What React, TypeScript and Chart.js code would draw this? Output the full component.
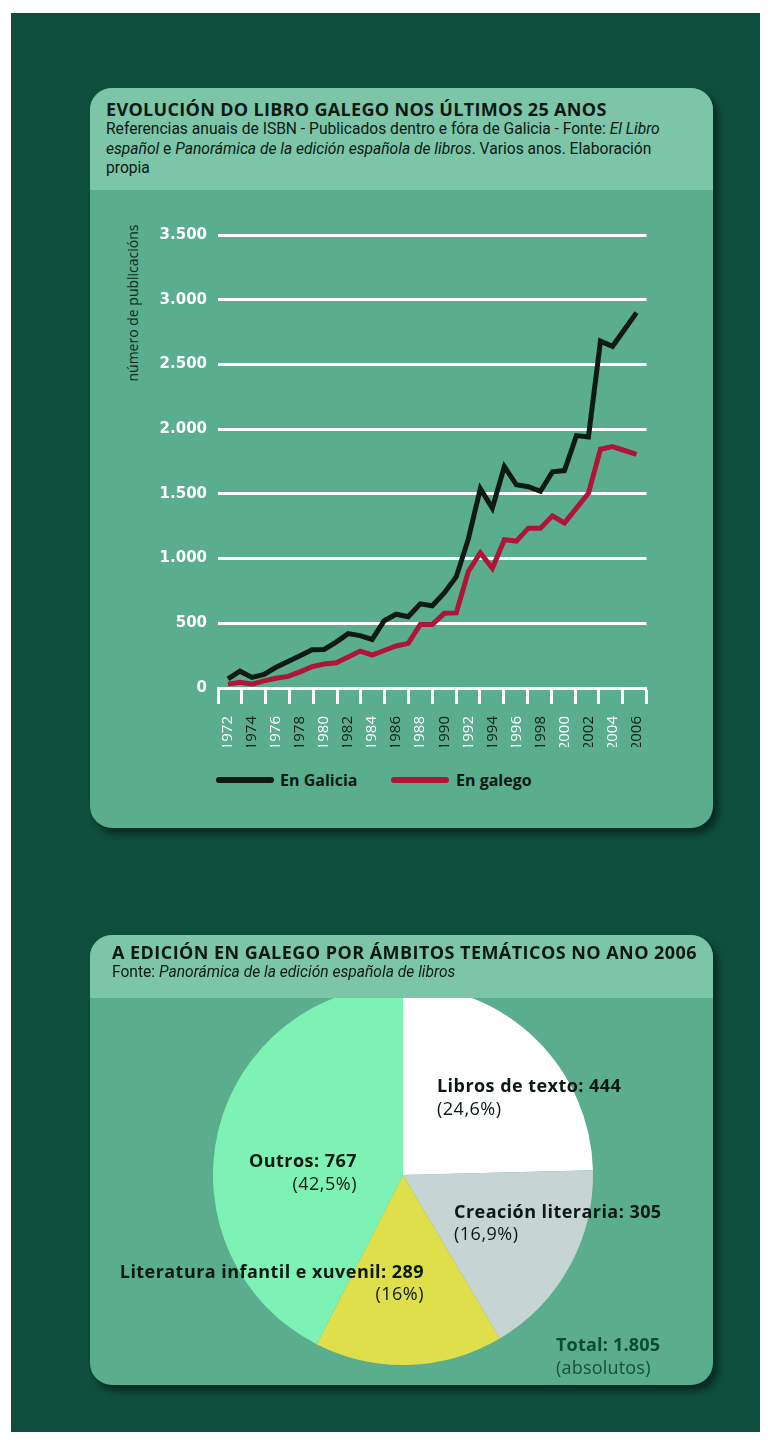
import React, { useEffect, useRef } from 'react';
import { Chart, registerables } from 'chart.js';

Chart.register(...registerables);

// ---------------- DATA ----------------
const years = [
  1972, 1973, 1974, 1975, 1976, 1977, 1978, 1979, 1980, 1981, 1982, 1983,
  1984, 1985, 1986, 1987, 1988, 1989, 1990, 1991, 1992, 1993, 1994, 1995,
  1996, 1997, 1998, 1999, 2000, 2001, 2002, 2003, 2004, 2005, 2006,
];
const enGalicia = [
  70, 130, 82, 105, 160, 205, 250, 295, 298, 355, 420, 405,
  375, 520, 570, 550, 650, 635, 735, 860, 1150, 1540, 1390, 1710,
  1570, 1555, 1520, 1670, 1680, 1950, 1940, 2680, 2640, 2770, 2900,
];
const enGalego = [
  30, 45, 30, 55, 75, 90, 125, 165, 185, 195, 240, 285,
  255, 290, 325, 345, 490, 490, 577, 580, 900, 1045, 925, 1145,
  1135, 1235, 1235, 1330, 1275, 1390, 1505, 1845, 1865, 1835, 1805,
];
const seriesNames = ['En Galicia', 'En galego'];
const yTickValues = [0, 500, 1000, 1500, 2000, 2500, 3000, 3500];
const xLabelYears = [
  1972, 1974, 1976, 1978, 1980, 1982, 1984, 1986, 1988,
  1990, 1992, 1994, 1996, 1998, 2000, 2002, 2004, 2006,
];
const yAxisTitle = 'número de publicacións';

const pieCategories = ['Libros de texto', 'Creación literaria', 'Literatura infantil e xuvenil', 'Outros'];
const pieValues = [444, 305, 289, 767];
const piePercents = ['24,6%', '16,9%', '16%', '42,5%'];
const pieTotal = 1805;

// ---------------- STYLE ----------------
const DARK = '#0e4e3c';
const PANEL = '#5aae8e';
const HEADER = '#7dc5a9';
const TEXT = '#0b1912';
const LINE_COLORS = ['#0f1a15', '#b01538'];
const PIE_COLORS = ['#ffffff', '#c6d4d4', '#dedf4b', '#7ef2b5'];
const X_MIN = 1971.17;
const X_MAX = 2006.83;
const X_DIVISIONS = 18;
const FONT = "'Open Sans', sans-serif";

function fmt(v: number): string {
  return String(v).replace(/\B(?=(\d{3})+(?!\d))/g, '.');
}

const abs = (s: React.CSSProperties): React.CSSProperties => ({ position: 'absolute', ...s });

export default function App() {
  const lineRef = useRef<HTMLCanvasElement>(null);
  const pieRef = useRef<HTMLCanvasElement>(null);

  useEffect(() => {
    const lc = new Chart(lineRef.current as HTMLCanvasElement, {
      type: 'line',
      data: {
        datasets: [
          {
            label: seriesNames[0],
            data: years.map((y, i) => ({ x: y, y: enGalicia[i] })),
            borderColor: LINE_COLORS[0],
            borderWidth: 5,
            pointRadius: 0,
            tension: 0,
            borderJoinStyle: 'miter',
            fill: false,
            xAxisID: 'x',
            yAxisID: 'y',
          },
          {
            label: seriesNames[1],
            data: years.map((y, i) => ({ x: y, y: enGalego[i] })),
            borderColor: LINE_COLORS[1],
            borderWidth: 5,
            pointRadius: 0,
            tension: 0,
            borderJoinStyle: 'miter',
            fill: false,
            xAxisID: 'x',
            yAxisID: 'y',
          },
        ],
      },
      options: {
        responsive: false,
        animation: false,
        events: [],
        layout: { padding: { top: 16, right: 13.5, bottom: 0, left: 0 } },
        plugins: { legend: { display: false }, tooltip: { enabled: false } },
        scales: {
          x: {
            type: 'linear',
            position: 'bottom',
            min: X_MIN,
            max: X_MAX,
            bounds: 'data',
            weight: 0,
            grid: { display: true, drawOnChartArea: false, drawTicks: true, tickLength: 16, tickWidth: 3, tickColor: '#ffffff' },
            border: { display: true, color: '#ffffff', width: 3 },
            ticks: { display: false },
            afterBuildTicks: (s: any) => {
              const t = [];
              for (let k = 0; k <= X_DIVISIONS; k++) t.push({ value: X_MIN + (k * (X_MAX - X_MIN)) / X_DIVISIONS });
              s.ticks = t;
            },
            afterFit: (s: any) => { s.height = 17; },
          },
          x2: {
            type: 'linear',
            position: 'bottom',
            min: X_MIN,
            max: X_MAX,
            bounds: 'data',
            weight: 1,
            grid: { display: false },
            border: { display: false },
            ticks: {
              autoSkip: false,
              minRotation: 90,
              maxRotation: 90,
              padding: 3,
              color: (c: any) => (c.index % 2 === 0 ? '#ffffff' : '#0f1f17'),
              font: { family: FONT, size: 15 },
              callback: (v: any) => String(v),
            },
            afterBuildTicks: (s: any) => { s.ticks = xLabelYears.map((v) => ({ value: v })); },
            afterFit: (s: any) => { s.height = 42; },
          },
          y: {
            type: 'linear',
            position: 'left',
            min: 0,
            max: 3500,
            ticks: {
              color: '#ffffff',
              padding: 11,
              font: { family: "'DejaVu Sans', sans-serif", size: 15, weight: 'bold' },
              callback: (v: any) => fmt(Number(v)),
            },
            afterBuildTicks: (s: any) => { s.ticks = yTickValues.map((v) => ({ value: v })); },
            grid: { color: '#ffffff', lineWidth: 3, drawTicks: false },
            border: { display: false },
            afterFit: (s: any) => { s.width = 68; },
          },
        },
      } as any,
    });

    const pc = new Chart(pieRef.current as HTMLCanvasElement, {
      type: 'pie',
      data: {
        labels: pieCategories,
        datasets: [{ data: pieValues, backgroundColor: PIE_COLORS, borderWidth: 0 }],
      },
      options: {
        responsive: false,
        animation: false,
        events: [],
        layout: { padding: 10 },
        plugins: { legend: { display: false }, tooltip: { enabled: false } },
      } as any,
    });

    return () => {
      lc.destroy();
      pc.destroy();
    };
  }, []);

  const bold18: React.CSSProperties = { fontFamily: FONT, fontWeight: 700, fontSize: 18, letterSpacing: 0.45, lineHeight: '22px', color: TEXT, whiteSpace: 'nowrap' };
  const reg18: React.CSSProperties = { fontFamily: FONT, fontWeight: 400, fontSize: 18, letterSpacing: 0.5, lineHeight: '22px', color: TEXT, whiteSpace: 'nowrap' };
  const sub: React.CSSProperties = { fontFamily: "Roboto, sans-serif", fontSize: 16, lineHeight: '20px', color: TEXT, whiteSpace: 'nowrap', transform: 'scaleX(0.975)', transformOrigin: 'left center' };
  const panelStyle: React.CSSProperties = { background: PANEL, borderRadius: 22, overflow: 'hidden', boxShadow: '5px 6px 7px rgba(0,0,0,0.45)' };

  return (
    <div style={abs({ left: 0, top: 0, width: 771, height: 1444, background: '#ffffff', overflow: 'hidden' })}>
      <div style={abs({ left: 11, top: 13, width: 749, height: 1419, background: DARK })} />

      {/* Panel 1 */}
      <div style={abs({ left: 90, top: 88, width: 623, height: 740, ...panelStyle })}>
        <div style={abs({ left: 0, top: 0, width: 623, height: 102, background: HEADER })} />
      </div>
      <div style={abs({ left: 106, top: 98, fontFamily: FONT, fontWeight: 700, fontSize: 18, letterSpacing: 0.32, lineHeight: '22px', color: TEXT, whiteSpace: 'nowrap' })}>
        EVOLUCIÓN DO LIBRO GALEGO NOS ÚLTIMOS 25 ANOS
      </div>
      <div style={abs({ left: 106, top: 119, ...sub })}>
        Referencias anuais de ISBN - Publicados dentro e fóra de Galicia - Fonte: <i>El Libro</i>
      </div>
      <div style={abs({ left: 106, top: 138.5, ...sub })}>
        <i>español</i> e <i>Panorámica de la edición española de libros</i>. Varios anos. Elaboración
      </div>
      <div style={abs({ left: 106, top: 158, ...sub })}>propia</div>

      <div style={abs({ left: 33, top: 295, width: 200, height: 16, lineHeight: '16px', textAlign: 'center', fontFamily: FONT, fontSize: 14, color: '#10281e', transform: 'rotate(-90deg)', whiteSpace: 'nowrap' })}>
        {yAxisTitle}
      </div>

      <canvas ref={lineRef} width={510} height={532} style={abs({ left: 150, top: 215, width: 510, height: 532 })} />

      {/* Legend */}
      <div style={abs({ left: 216, top: 777, width: 58, height: 6, borderRadius: 3, background: LINE_COLORS[0] })} />
      <div style={abs({ left: 280, top: 769, fontFamily: FONT, fontWeight: 700, fontSize: 16, lineHeight: '22px', color: TEXT, whiteSpace: 'nowrap' })}>{seriesNames[0]}</div>
      <div style={abs({ left: 391, top: 777, width: 58, height: 6, borderRadius: 3, background: LINE_COLORS[1] })} />
      <div style={abs({ left: 456, top: 769, fontFamily: FONT, fontWeight: 700, fontSize: 16, lineHeight: '22px', color: TEXT, whiteSpace: 'nowrap' })}>{seriesNames[1]}</div>

      {/* Panel 2 */}
      <div style={abs({ left: 90, top: 935, width: 623, height: 450, ...panelStyle })}>
        <canvas ref={pieRef} width={400} height={400} style={abs({ left: 112.5, top: 40, width: 400, height: 400 })} />
        <div style={abs({ left: 0, top: 0, width: 623, height: 63, background: HEADER })} />
      </div>
      <div style={abs({ left: 112, top: 941, fontFamily: FONT, fontWeight: 700, fontSize: 18, letterSpacing: 0.45, lineHeight: '22px', color: TEXT, whiteSpace: 'nowrap' })}>
        A EDICIÓN EN GALEGO POR ÁMBITOS TEMÁTICOS NO ANO 2006
      </div>
      <div style={abs({ left: 112, top: 962, ...sub })}>
        Fonte: <i>Panorámica de la edición española de libros</i>
      </div>

      {/* Pie labels */}
      <div style={abs({ left: 437, top: 1074, ...bold18 })}>{pieCategories[0]}: {fmt(pieValues[0])}</div>
      <div style={abs({ left: 437, top: 1097, ...reg18 })}>({piePercents[0]})</div>
      <div style={abs({ left: 454, top: 1200, ...bold18 })}>{pieCategories[1]}: {fmt(pieValues[1])}</div>
      <div style={abs({ left: 454, top: 1222, ...reg18 })}>({piePercents[1]})</div>
      <div style={abs({ right: 771 - 424, top: 1260, textAlign: 'right', ...bold18 })}>{pieCategories[2]}: {fmt(pieValues[2])}</div>
      <div style={abs({ right: 771 - 424, top: 1282, textAlign: 'right', ...reg18 })}>({piePercents[2]})</div>
      <div style={abs({ left: 249, top: 1149, ...bold18 })}>{pieCategories[3]}: {fmt(pieValues[3])}</div>
      <div style={abs({ right: 771 - 357, top: 1172, textAlign: 'right', ...reg18 })}>({piePercents[3]})</div>

      <div style={abs({ left: 556, top: 1333, ...bold18, letterSpacing: 0.2, color: '#0b4a37' })}>Total: {fmt(pieTotal)}</div>
      <div style={abs({ left: 556, top: 1356, ...reg18, letterSpacing: 0.2, color: '#164f3d' })}>(absolutos)</div>
    </div>
  );
}
